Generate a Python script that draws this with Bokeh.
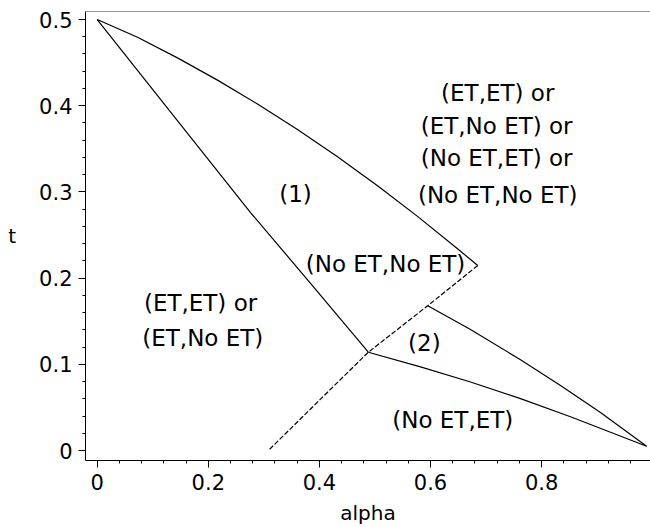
from bokeh.plotting import figure
from bokeh.models import Range1d, SingleIntervalTicker, CustomJSTickFormatter, Span, ColumnDataSource
from bokeh.embed import file_html
from bokeh.resources import INLINE
from bokeh.core.properties import value

# ---- data (alpha, t) ----
left_alpha = [0.0, 0.144, 0.276, 0.384, 0.488]
left_t = [0.5, 0.383, 0.276, 0.194, 0.114]

upper_alpha = [0.0, 0.0725, 0.1445, 0.2165, 0.2885, 0.3605, 0.4326, 0.5046, 0.5766, 0.6486, 0.685]
upper_t = [0.5, 0.4794, 0.4555, 0.4297, 0.4020, 0.3724, 0.3407, 0.3072, 0.2716, 0.2341, 0.2146]

mid_alpha = [0.685, 0.595, 0.488, 0.420, 0.357, 0.308]
mid_t = [0.2146, 0.168, 0.114, 0.071, 0.031, 0.0]

low_alpha = [0.488, 0.582, 0.672, 0.762, 0.852, 0.924, 0.989]
low_t = [0.114, 0.097, 0.0795, 0.0602, 0.0391, 0.0211, 0.005]

right_alpha = [0.595, 0.672, 0.762, 0.834, 0.906, 0.989]
right_t = [0.168, 0.1403, 0.1053, 0.0755, 0.0440, 0.005]

region_text = ["(ET,ET) or", "(ET,No ET) or", "(No ET,ET) or", "(No ET,No ET)",
               "(1)", "(No ET,No ET)", "(2)",
               "(ET,ET) or", "(ET,No ET)", "(No ET,ET)"]
region_alpha = [0.721, 0.719, 0.719, 0.721, 0.357, 0.519, 0.589, 0.186, 0.190, 0.640]
region_t = [0.415, 0.377, 0.339, 0.296, 0.297, 0.216, 0.125, 0.171, 0.130, 0.035]

x_label = "alpha"
y_label = "t"

FONT = "DejaVu Sans"
T_TOP = 0.5093

p = figure(width=650, height=527,
           x_range=Range1d(-0.0211, 0.996), y_range=Range1d(-0.0116, T_TOP),
           output_backend="svg", toolbar_location=None,
           min_border_left=85, min_border_top=11, min_border_right=0, min_border_bottom=67,
           background_fill_color="white", border_fill_color="white",
           outline_line_color=None)

p.grid.visible = False

p.xaxis.ticker = SingleIntervalTicker(interval=0.2, num_minor_ticks=5)
p.yaxis.ticker = SingleIntervalTicker(interval=0.1, num_minor_ticks=5)
fmt = "return String(Math.round(tick*10)/10);"
p.xaxis.formatter = CustomJSTickFormatter(code=fmt)
p.yaxis.formatter = CustomJSTickFormatter(code=fmt)

for ax in (p.xaxis, p.yaxis):
    ax.axis_line_color = "black"
    ax.axis_line_width = 1
    ax.major_tick_line_color = "black"
    ax.minor_tick_line_color = "black"
    ax.major_tick_in = 0
    ax.major_tick_out = 7
    ax.minor_tick_in = 0
    ax.minor_tick_out = 3
    ax.major_label_text_font = FONT
    ax.major_label_text_font_size = "21px"
    ax.major_label_text_color = "black"
    ax.axis_label_text_font = FONT
    ax.axis_label_text_font_size = "20px"
    ax.axis_label_text_font_style = "normal"
    ax.axis_label_text_color = "black"

p.xaxis.axis_label = x_label
p.xaxis.major_label_standoff = 6
p.xaxis.axis_label_standoff = 8

p.yaxis.major_label_standoff = 6
p.yaxis.axis_label = y_label
p.yaxis.axis_label_standoff = 20
try:
    p.yaxis.axis_label_orientation = "horizontal"
except Exception:
    p.yaxis.axis_label_standoff = 4

p.add_layout(Span(location=T_TOP, dimension="width", line_color="#333333", line_width=1))

lw = 1.2
p.line(left_alpha, left_t, line_color="black", line_width=lw)
p.line(upper_alpha, upper_t, line_color="black", line_width=lw)
p.line(mid_alpha, mid_t, line_color="black", line_width=lw, line_dash="5 2")
p.line(low_alpha, low_t, line_color="black", line_width=lw)
p.line(right_alpha, right_t, line_color="black", line_width=lw)

src = ColumnDataSource(dict(x=region_alpha, y=region_t, text=region_text))
p.text(x="x", y="y", text="text", source=src,
       text_font=value(FONT), text_font_size=value("23px"),
       text_align="center", text_baseline="middle", text_color="black")

open("out.html", "w").write(file_html(p, INLINE))
